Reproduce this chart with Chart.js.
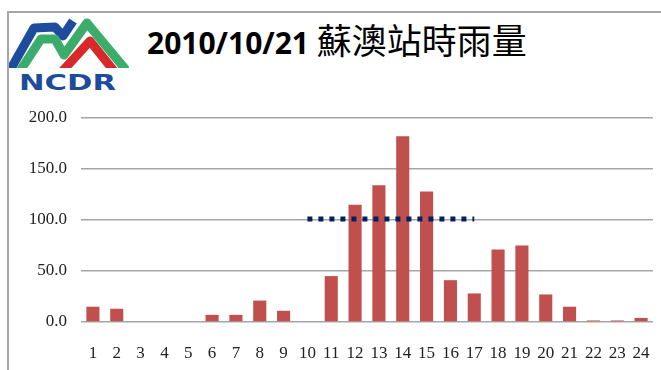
<!DOCTYPE html>
<html>
<head>
<meta charset="utf-8">
<script src="https://cdn.jsdelivr.net/npm/chart.js@4"></script>
<style>
  html, body { margin: 0; padding: 0; background: #fff; }
  #wrap { position: relative; width: 661px; height: 370px; overflow: hidden; }
  #frame { position: absolute; left: 7px; top: 11px; right: -5px; bottom: -5px;
           border-top: 2px solid #a6a6a6; border-left: 2px solid #a6a6a6; }
  #logo { position: absolute; left: 0; top: 0; }
  #title { position: absolute; left: 147px; top: 13px; white-space: nowrap; color: #000; }
  #title .d { font: bold 30px "Open Sans", sans-serif; }
  #title .c { font: 35px "Noto Sans CJK TC", sans-serif; }
  #rain { position: absolute; left: 0; top: 0; }
</style>
</head>
<body>
<div id="wrap">
  <div id="frame"></div>
  <svg id="logo" width="130" height="95" viewBox="0 0 130 95">
    <defs>
      <clipPath id="cut"><rect x="9" y="14" width="120" height="54"/></clipPath>
    </defs>
    <!-- blue, green and red ridges of the logo -->
    <g clip-path="url(#cut)" fill="none" stroke-width="9" stroke-linejoin="round">
      <polyline points="9,72 34,28 55,27 63,36 73,21" stroke="#1d4c9c"/>
      <polyline points="18,74 41,39 55,39 64,55 87,23 126,70" stroke="#3bad6b"/>
      <polyline points="58,76 90,41 118,76" stroke="#d7282c"/>
    </g>
    <text x="19" y="90" textLength="97" lengthAdjust="spacingAndGlyphs"
          font-family="DejaVu Sans" font-weight="bold" font-size="21" fill="#1d4c9c">NCDR</text>
  </svg>
  <div id="title"><span class="d">2010/10/21 </span><span class="c">蘇澳站時雨量</span></div>
  <canvas id="rain" width="661" height="370"></canvas>
</div>
<script>
// hourly rainfall (mm) for 2010/10/21
const hours = ['1','2','3','4','5','6','7','8','9','10','11','12','13','14','15','16','17','18','19','20','21','22','23','24']
const rainfall = [15, 13, 0, 0, 0, 7, 7, 21, 11, 0, 45, 115, 134, 182, 128, 41, 28, 71, 75, 27, 15, 1.5, 1.5, 4]
// warning level, drawn across hours 10 to 17
const warning = [null, null, null, null, null, null, null, null, null, 101, 101, 101, 101, 101, 101, 101, 101, null, null, null, null, null, null, null]
const yTicks = [0, 50, 100, 150, 200]

const tickFont = { family: 'Liberation Serif', size: 17 }

new Chart(document.getElementById('rain'), {
    type: 'bar',
    data: {
        labels: hours,
        datasets: [{
            type: 'line',
            label: '警戒',
            data: warning,
            borderColor: '#002060',
            borderWidth: 5,
            borderDash: [5, 6],
            borderCapStyle: 'butt',
            pointRadius: 0,
            fill: false,
            spanGaps: false
        }, {
            label: '時雨量',
            data: rainfall,
            backgroundColor: '#c0504d',
            categoryPercentage: 1,
            barPercentage: 0.55
        }]
    },
    options: {
        responsive: false,
        animation: false,
        layout: { padding: { top: 118, right: 8, left: 0, bottom: 0 } },
        plugins: {
            legend: { display: false },
            tooltip: { enabled: false }
        },
        scales: {
            x: {
                grid: { display: false, drawTicks: false },
                border: { display: false },
                ticks: { font: tickFont, color: '#222', padding: 21, maxRotation: 0, autoSkip: false },
                afterFit: (scale) => {
                    scale.height = 48
                    // keep the end labels from pulling the plot area in
                    scale.paddingLeft = 0
                    scale.paddingRight = 0
                }
            },
            y: {
                min: 0,
                max: 200,
                afterBuildTicks: (scale) => { scale.ticks = yTicks.map(v => ({ value: v })) },
                grid: { color: '#a6a6a6', lineWidth: 1.5, drawTicks: false, z: -1 },
                border: { display: false },
                ticks: { font: tickFont, color: '#222', padding: 14, callback: (v) => Number(v).toFixed(1) },
                afterFit: (scale) => { scale.width = 81 }
            }
        }
    }
})
</script>
</body>
</html>
